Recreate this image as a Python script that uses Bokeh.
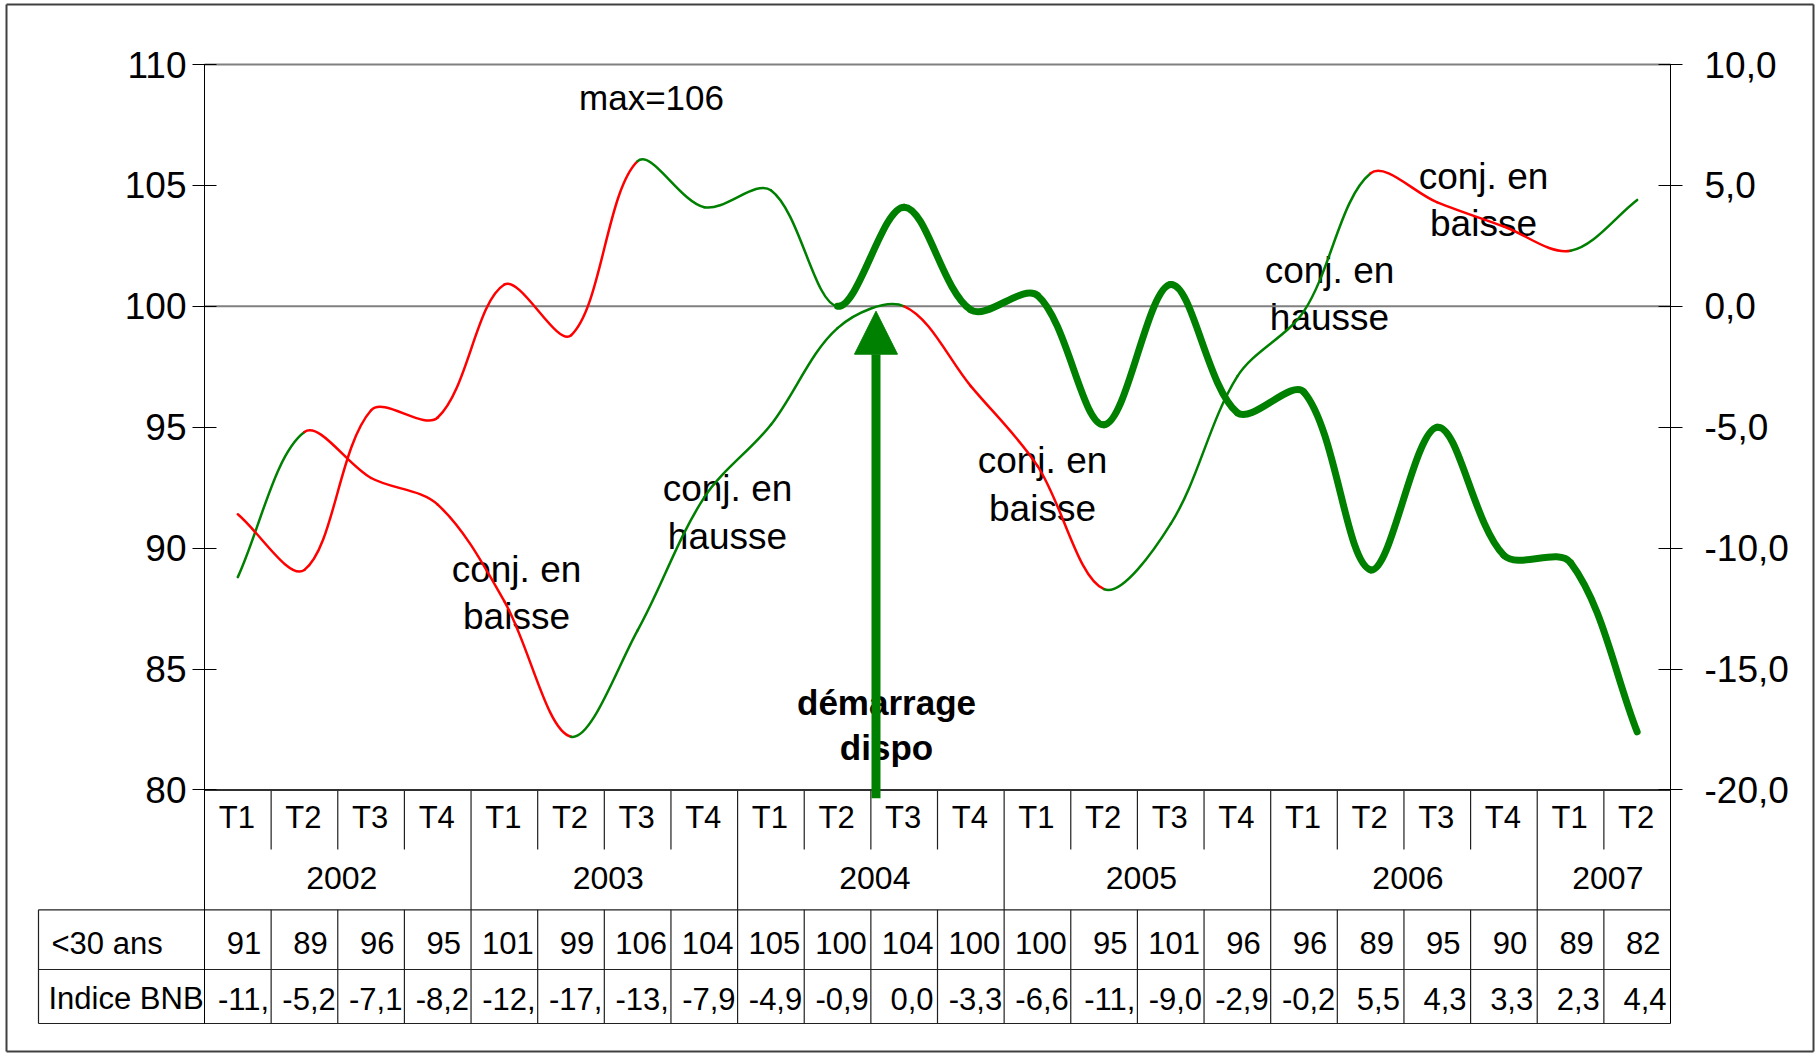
import numpy as np
from bokeh.plotting import figure
from bokeh.models import (Range1d, LinearAxis, FixedTicker, CustomJSTickFormatter,
                          Arrow, NormalHead, ColumnDataSource)
from bokeh.core.properties import value
from bokeh.embed import file_html
from bokeh.resources import INLINE

# ---------------- data ----------------
years = ["2002", "2003", "2004", "2005", "2006", "2007"]
quarters_per_year = [4, 4, 4, 4, 4, 2]
quarter_labels = ["T1", "T2", "T3", "T4", "T1", "T2", "T3", "T4", "T1", "T2", "T3", "T4",
                  "T1", "T2", "T3", "T4", "T1", "T2", "T3", "T4", "T1", "T2"]
under30 = [91.4, 89.1, 95.7, 95.4, 100.9, 98.8, 106.0, 104.1, 104.8, 100.0, 104.1,
           99.85, 100.45, 95.1, 100.9, 95.6, 96.45, 89.1, 95.0, 89.7, 89.4, 82.4]
bnb = [-11.2, -5.2, -7.1, -8.2, -12.2, -17.8, -13.4, -7.9, -4.9, -0.9, 0.0,
       -3.3, -6.6, -11.7, -9.0, -2.9, -0.2, 5.5, 4.3, 3.3, 2.3, 4.4]
series_names = ["<30 ans", "Indice BNB"]
left_ticks = [80, 85, 90, 95, 100, 105, 110]
right_ticks = [-20, -15, -10, -5, 0, 5, 10]
u30_green_from = 6      # <30 ans drawn green from T3 2003
dispo_from = 9          # thick line after "démarrage dispo"
notes = ["conj. en\nbaisse", "conj. en\nhausse", "conj. en\nbaisse", "conj. en\nhausse", "conj. en\nbaisse"]
max_note = "max=106"
dispo_note = "démarrage\ndispo"

RED, GREEN = "#FF0000", "#008000"
FONT = "Liberation Sans"
tf = value(FONT)

# ---------------- layout (page pixel coords) ----------------
W, H = 1820, 1054
PX_L, PX_R = 204.0, 1670.0
PY_TOP, PY_80 = 64.0, 789.4
ROWS = [789.4, 849.0, 909.3, 969.0, 1023.0]
n = len(under30)
ux = (PX_R - PX_L) / n
uy = (PY_80 - PY_TOP) / 30.0
x_lo, x_hi = -PX_L / ux, n + (W - PX_R) / ux
y_hi, y_lo = 110 + PY_TOP / uy, 80 - (H - PY_80) / uy
y_tab = 80 - (ROWS[-1] - PY_80) / uy

p = figure(width=W, height=H, min_border=0,
           x_range=Range1d(x_lo, x_hi), y_range=Range1d(y_lo, y_hi),
           x_axis_location=None, y_axis_location=None,
           toolbar_location=None, output_backend="svg")
p.extra_y_ranges = {"bnb": Range1d(y_lo - 100, y_hi - 100), "py": Range1d(start=H, end=0)}
p.extra_x_ranges = {"px": Range1d(0, W)}
p.grid.visible = False
p.outline_line_color = None
p.background_fill_color = "white"
p.border_fill_color = "white"

def style_axis(ax, standoff, size):
    ax.major_tick_in = 12
    ax.major_tick_out = 12
    ax.minor_tick_in = 0
    ax.minor_tick_out = 0
    ax.axis_line_color = "black"
    ax.major_tick_line_color = "black"
    ax.major_label_text_font = FONT
    ax.major_label_text_font_size = size
    ax.major_label_text_color = "black"
    ax.major_label_standoff = standoff

# ---------------- texts (drawn first, lines go over them) ----------------
def T(x, y, s, size, align="center", style="normal", xr="px", **kw):
    p.text(x=x, y=y, text=s, x_range_name=xr, y_range_name="py", text_font=tf,
           text_font_size=size, text_align=align, text_baseline="middle",
           text_font_style=style, text_color="black", **kw)

note_x = [516, 727, 1042, 1329, 1483]
note_base = [581.7, 501.5, 473.6, 283.0, 188.8]
tx, ty, tt = [], [], []
for s, x, b in zip(notes, note_x, note_base):
    for k, line in enumerate(s.split("\n")):
        tx.append(x); ty.append(b + k * 47.5 - 13.2); tt.append(line)
T(tx, ty, tt, "37px")
T([651], [96.5], [max_note], "35px")
T([886, 886], [714.5 - 12.5, 759 - 12.5], dispo_note.split("\n"), "35px", style="bold")

# ---------------- data table ----------------
LC = "#202020"
sx0, sy0, sx1, sy1 = [], [], [], []
year_starts = np.cumsum([0] + quarters_per_year[:-1])
year_bounds = set(int(b) for b in year_starts) | {n}
for b in range(1, n):
    if b in year_bounds:
        sx0.append(b); sy0.append(ROWS[0]); sx1.append(b); sy1.append(ROWS[4])
    else:
        sx0 += [b, b]; sy0 += [ROWS[0], ROWS[2]]; sx1 += [b, b]; sy1 += [ROWS[1], ROWS[4]]
p.segment(x0=sx0, y0=sy0, x1=sx1, y1=sy1, y_range_name="py", line_color=LC, line_width=1.2)
hx0 = [38.0] * 3
hx1 = [PX_R] * 3
p.segment(x0=hx0 + [38.0], y0=ROWS[2:] + [ROWS[2]], x1=hx1 + [38.0], y1=ROWS[2:] + [ROWS[4]],
          x_range_name="px", y_range_name="py", line_color=LC, line_width=1.2)

xc = np.arange(n) + 0.5
T(xc, [828.3 - 11.2] * n, quarter_labels, "31px", xr="default", x_offset=-1)
ycent = [float(s) + q / 2 for s, q in zip(year_starts, quarters_per_year)]
T(ycent, [889.3 - 11.5] * len(years), years, "32px", xr="default", x_offset=4)

u_txt = ["{:.0f}".format(v) for v in under30]
b_txt = ["{:.1f}".format(v).replace(".", ",")[:4] for v in bnb]
pads = {1: 10, 2: 10, 3: 4, 4: 2}
for txts, yb in ((u_txt, 953.3), (b_txt, 1009.5)):
    src = ColumnDataSource(dict(x=np.arange(n) + 1.0, y=[yb - 11.2] * n, t=txts,
                                off=[-pads[len(t)] for t in txts]))
    p.text(x="x", y="y", text="t", x_offset="off", source=src, y_range_name="py",
           text_font=tf, text_font_size="31px", text_align="right",
           text_baseline="middle", text_color="black")
T([51, 48], [954 - 11.2, 1009.5 - 11.2], series_names, "31px", align="left")

# plot area frame lines
p.segment(x0=[0, 0, 0], y0=[110, 100, 80], x1=[n, n, n], y1=[110, 100, 80],
          line_color=["#808080", "#808080", "#303030"], line_width=2)

# outer border
p.segment(x0=[6, 1813, 1813, 6], y0=[4, 4, 1051, 1051], x1=[1813, 1813, 6, 6], y1=[4, 1051, 1051, 4],
          x_range_name="px", y_range_name="py", line_color="#404040", line_width=2)

# ---------------- smoothed lines (spreadsheet-style bezier smoothing) ----------------
def bezier_segments(v, tension=1.0 / 3.0):
    v = np.asarray(v, float)
    m = len(v)
    xs = np.arange(m) + 0.5
    # chord lengths measured in screen pixels
    d = np.hypot(np.diff(xs) * ux, np.diff(v) * uy)
    out = {k: [] for k in ("x0", "y0", "x1", "y1", "cx0", "cy0", "cx1", "cy1")}
    for i in range(m - 1):
        a, b = max(i - 1, 0), min(i + 2, m - 1)
        dp = d[i - 1] if i > 0 else 0.0
        dn = d[i + 1] if i + 1 < m - 1 else 0.0
        f = tension * d[i] / (dp + d[i])
        g = tension * d[i] / (d[i] + dn)
        out["x0"].append(xs[i]); out["y0"].append(v[i])
        out["x1"].append(xs[i + 1]); out["y1"].append(v[i + 1])
        out["cx0"].append(xs[i] + f * (xs[i + 1] - xs[a]))
        out["cy0"].append(v[i] + f * (v[i + 1] - v[a]))
        out["cx1"].append(xs[i + 1] - g * (xs[b] - xs[i]))
        out["cy1"].append(v[i + 1] - g * (v[b] - v[i]))
    return out

bs = bezier_segments(bnb)
bs["color"] = [GREEN if bnb[k + 1] > bnb[k] else RED for k in range(n - 1)]
p.bezier(x0="x0", y0="y0", x1="x1", y1="y1", cx0="cx0", cy0="cy0", cx1="cx1", cy1="cy1",
         source=ColumnDataSource(bs), line_color="color", line_width=2.5, line_cap="round",
         y_range_name="bnb")

us = bezier_segments(under30)
us["color"] = [GREEN if k >= u30_green_from else RED for k in range(n - 1)]
us["width"] = [7 if k >= dispo_from else 2.5 for k in range(n - 1)]
p.bezier(x0="x0", y0="y0", x1="x1", y1="y1", cx0="cx0", cy0="cy0", cx1="cx1", cy1="cy1",
         source=ColumnDataSource(us), line_color="color", line_width="width", line_cap="round")

# arrow "démarrage dispo"
p.add_layout(Arrow(end=NormalHead(size=43, fill_color=GREEN, line_color=GREEN, line_width=1),
                   x_start=10.077, y_start=797.7, x_end=10.077, y_end=310.7,
                   y_range_name="py", line_color=GREEN, line_width=9))

# ---------------- axes at the plot-area edges ----------------
la = LinearAxis(ticker=FixedTicker(ticks=left_ticks), fixed_location=0)
la.bounds = (y_tab, 110)
style_axis(la, 6, "37px")
p.add_layout(la, "left")

ra = LinearAxis(y_range_name="bnb", ticker=FixedTicker(ticks=right_ticks), fixed_location=n,
                formatter=CustomJSTickFormatter(code="return tick.toFixed(1).replace('.', ',')"))
ra.bounds = (y_tab - 100, 10)
style_axis(ra, 22, "37px")
p.add_layout(ra, "right")

open("out.html", "w").write(file_html(p, INLINE))
